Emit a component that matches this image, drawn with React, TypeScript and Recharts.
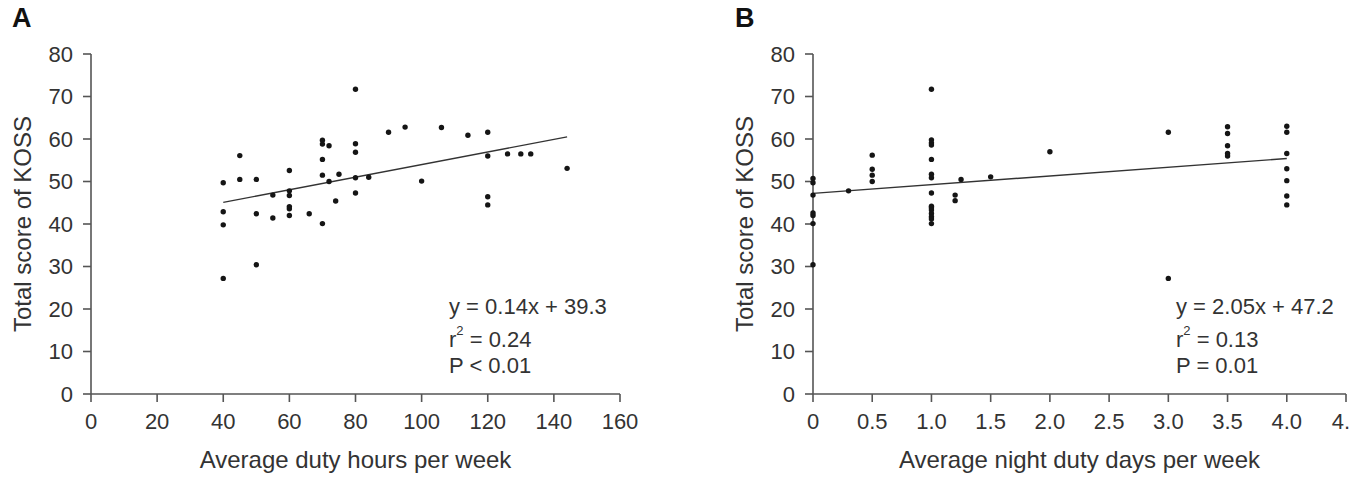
import React from "react";
import { ScatterChart, Scatter, XAxis, YAxis, ReferenceLine } from "recharts";

// Panel A: average duty hours per week vs total KOSS score
const A_HOURS = [
  40, 40, 40, 40, 45, 45, 50, 50, 50, 55, 55, 60, 60, 60, 60, 60, 60, 66, 70, 70,
  70, 70, 70, 72, 72, 74, 75, 80, 80, 80, 80, 80, 84, 90, 95, 100, 106, 114, 120,
  120, 120, 120, 126, 130, 133, 144,
];
const A_SCORE = [
  49.7, 42.9, 39.8, 27.2, 56.1, 50.5, 50.5, 42.4, 30.4, 46.8, 41.4, 52.6, 47.8,
  46.7, 44.1, 43.6, 42.0, 42.4, 59.7, 58.8, 55.2, 51.5, 40.1, 58.4, 50.0, 45.4,
  51.7, 71.7, 58.9, 56.9, 50.9, 47.3, 51.0, 61.6, 62.8, 50.1, 62.7, 60.9, 61.6,
  56.0, 46.4, 44.5, 56.5, 56.5, 56.5, 53.1,
];
const A_FIT_X = [40, 144];
const A_FIT_Y = [45.1, 60.5];
const A_X_TICKS = [0, 20, 40, 60, 80, 100, 120, 140, 160];
const A_X_LABELS = ["0", "20", "40", "60", "80", "100", "120", "140", "160"];

// Panel B: average night duty days per week vs total KOSS score
const B_NIGHTS = [
  0, 0, 0, 0, 0, 0, 0, 0.3, 0.5, 0.5, 0.5, 0.5, 1, 1, 1, 1, 1, 1, 1, 1, 1, 1, 1,
  1, 1, 1, 1, 1.2, 1.2, 1.25, 1.5, 2, 3, 3, 3.5, 3.5, 3.5, 3.5, 3.5, 4, 4, 4, 4,
  4, 4, 4,
];
const B_SCORE = [
  50.7, 49.7, 46.8, 42.6, 42.0, 40.1, 30.4, 47.8, 56.2, 52.9, 51.5, 50.0, 71.7,
  59.8, 59.1, 58.6, 55.2, 51.7, 50.9, 47.3, 44.2, 43.8, 43.3, 42.5, 41.7, 41.2,
  40.1, 46.8, 45.5, 50.5, 51.1, 57.0, 61.6, 27.2, 62.9, 61.3, 58.4, 56.6, 56.0,
  63.0, 61.6, 56.6, 53.0, 50.2, 46.6, 44.5,
];
const B_FIT_X = [0, 4];
const B_FIT_Y = [47.2, 55.4];
const B_X_TICKS = [0, 0.5, 1, 1.5, 2, 2.5, 3, 3.5, 4, 4.5];
// last label is cut at the figure edge in the original
const B_X_LABELS = ["0", "0.5", "1.0", "1.5", "2.0", "2.5", "3.0", "3.5", "4.0", "4."];

const Y_TICKS = [0, 10, 20, 30, 40, 50, 60, 70, 80];

const FONT = '"Liberation Sans", Arial, sans-serif';
const TEXT = "#333";
const AXIS = "#555";

const aPoints = A_HOURS.map((x, i) => ({ x, y: A_SCORE[i] }));
const bPoints = B_NIGHTS.map((x, i) => ({ x, y: B_SCORE[i] }));

const Dot = (props: any) => (
  <circle cx={props.cx} cy={props.cy} r={2.7} fill="#151515" />
);

const tickStyle = { fontSize: 22, fill: TEXT, fontFamily: FONT };
const axisLine = { stroke: AXIS, strokeWidth: 1.6 };

// x tick: the label at the chart's right edge is anchored at its end so it stays inside
function makeXTick(ticks: number[], labels: string[], chartWidth: number) {
  return (props: any) => {
    const { x, y, payload } = props;
    const i = ticks.indexOf(payload.value);
    const text = i >= 0 ? labels[i] : String(payload.value);
    const atEdge = x > chartWidth - 12;
    return (
      <text
        x={atEdge ? chartWidth - 1 : x}
        y={y}
        dy="0.71em"
        textAnchor={atEdge ? "end" : "middle"}
        fontSize={22}
        fill={TEXT}
        fontFamily={FONT}
      >
        {text}
      </text>
    );
  };
}

interface PanelProps {
  letter: string;
  left: number;
  width: number;
  yAxisWidth: number;
  right: number;
  yLabelOffset: number;
  points: { x: number; y: number }[];
  fitX: number[];
  fitY: number[];
  xTicks: number[];
  xLabels: string[];
  xDomain: [number, number];
  xTitle: string;
  stats: string[];
  statsLeft: number;
}

const statLine = (top: number): React.CSSProperties => ({
  position: "absolute",
  top,
  fontSize: 22,
  lineHeight: "22px",
  fontFamily: FONT,
  color: TEXT,
  whiteSpace: "nowrap",
});

function Panel(p: PanelProps) {
  return (
    <div style={{ position: "absolute", left: p.left, top: 0 }}>
      <ScatterChart
        width={p.width}
        height={479}
        margin={{ top: 54, right: p.right, bottom: 45, left: 0 }}
      >
        <XAxis
          type="number"
          dataKey="x"
          domain={p.xDomain}
          ticks={p.xTicks}
          interval={0}
          tick={makeXTick(p.xTicks, p.xLabels, p.width)}
          tickSize={8}
          tickMargin={11}
          axisLine={axisLine}
          tickLine={axisLine}
          height={40}
          label={{
            value: p.xTitle,
            position: "bottom",
            offset: 17,
            fontSize: 24,
            fill: TEXT,
            fontFamily: FONT,
          }}
        />
        <YAxis
          type="number"
          dataKey="y"
          domain={[0, 80]}
          ticks={Y_TICKS}
          interval={0}
          tick={tickStyle}
          tickSize={8}
          tickMargin={10}
          axisLine={axisLine}
          tickLine={axisLine}
          width={p.yAxisWidth}
          label={{
            value: "Total score of KOSS",
            angle: -90,
            position: "insideLeft",
            offset: p.yLabelOffset,
            textAnchor: "middle",
            fontSize: 24,
            fill: TEXT,
            fontFamily: FONT,
          }}
        />
        <ReferenceLine
          segment={[
            { x: p.fitX[0], y: p.fitY[0] },
            { x: p.fitX[1], y: p.fitY[1] },
          ]}
          stroke="#333"
          strokeWidth={1.4}
        />
        <Scatter data={p.points} shape={Dot} isAnimationActive={false} />
      </ScatterChart>
      <div
        style={{
          position: "absolute",
          left: 12 + (p.letter === "B" ? 43 : 0),
          top: 5,
          fontSize: 27,
          fontWeight: "bold",
          fontFamily: FONT,
          color: "#111",
          lineHeight: "27px",
        }}
      >
        {p.letter}
      </div>
      <div style={{ ...statLine(296), left: p.statsLeft }}>{p.stats[0]}</div>
      <div style={{ ...statLine(329), left: p.statsLeft }}>
        r
        <span style={{ fontSize: 13, position: "relative", top: -12 }}>2</span>
        {" " + p.stats[1]}
      </div>
      <div style={{ ...statLine(355), left: p.statsLeft }}>{p.stats[2]}</div>
    </div>
  );
}

export default function App() {
  return (
    <div
      style={{
        position: "absolute",
        left: 0,
        top: 0,
        width: 1351,
        height: 479,
        background: "#fff",
        overflow: "hidden",
      }}
    >
      <Panel
        letter="A"
        left={0}
        width={660}
        yAxisWidth={91}
        right={40}
        yLabelOffset={22}
        points={aPoints}
        fitX={A_FIT_X}
        fitY={A_FIT_Y}
        xTicks={A_X_TICKS}
        xLabels={A_X_LABELS}
        xDomain={[0, 160]}
        xTitle="Average duty hours per week"
        stats={["y = 0.14x + 39.3", "= 0.24", "P < 0.01"]}
        statsLeft={449}
      />
      <Panel
        letter="B"
        left={680}
        width={671}
        yAxisWidth={133}
        right={5}
        yLabelOffset={64}
        points={bPoints}
        fitX={B_FIT_X}
        fitY={B_FIT_Y}
        xTicks={B_X_TICKS}
        xLabels={B_X_LABELS}
        xDomain={[0, 4.5]}
        xTitle="Average night duty days per week"
        stats={["y = 2.05x + 47.2", "= 0.13", "P = 0.01"]}
        statsLeft={496}
      />
    </div>
  );
}
